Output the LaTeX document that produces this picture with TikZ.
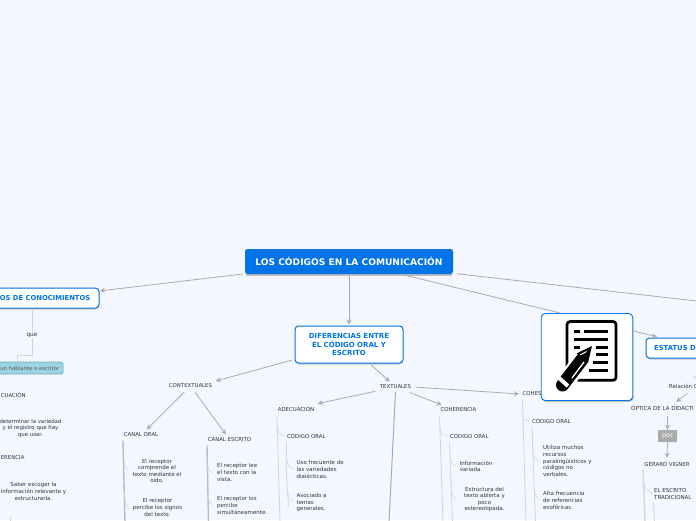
\documentclass[tikz,border=0pt]{standalone}
\usepackage{fontspec}
\setmainfont{DejaVu Sans}
\usetikzlibrary{arrows.meta,calc}
\definecolor{bgc}{HTML}{F4F7FF}
\definecolor{blu}{HTML}{0073E6}
\definecolor{lin}{HTML}{ABABAB}
\definecolor{lite}{HTML}{D6D6D6}
\definecolor{txt}{HTML}{333333}
\definecolor{tagf}{HTML}{9CD3E2}
\definecolor{tagd}{HTML}{6FAFC2}
\tikzset{
  x=1pt,y=-1pt,
  conn/.style={draw=lin,line width=.8pt,-{Stealth[length=5pt,width=5pt,fill=lin!70]},shorten <=2pt,shorten >=1pt},
  plain/.style={draw=lin,line width=.8pt},
  trunk/.style={draw=lite,line width=.9pt,line cap=round},
  bigtrunk/.style={draw=lin!80,line width=1.4pt,line cap=round},
  twig/.style={draw=lite,line width=.6pt},
  elbow/.style={draw=lite,line width=.9pt},
  tx/.style={text=txt,font=\fontsize{5.5}{6.6}\selectfont,align=center,inner sep=1pt},
  txl/.style={tx,align=left,anchor=west},
  hd/.style={tx,font=\fontsize{5.4}{6.6}\selectfont,inner sep=2.5pt},
  topbox/.style={fill=blu,rounded corners=2.5pt,text=white,font=\bfseries\fontsize{9.1}{10}\selectfont,minimum width=208pt,minimum height=25pt,inner sep=0pt},
  subbox/.style={draw=blu,line width=1pt,fill=white,rounded corners=3.5pt,text=blu,font=\bfseries\fontsize{7}{8.4}\selectfont,align=center,inner sep=0pt},
}
\begin{document}
\begin{tikzpicture}
\useasboundingbox (0,0) rectangle (696,520);
\clip (0,0) rectangle (696,520);
\fill[bgc] (0,0) rectangle (696,520);

% subtle shadows
\fill[black!25] (246,251) rectangle (452,276);

% nodes
\node[topbox] (main) at (349,261.5) {LOS CÓDIGOS EN LA COMUNICACIÓN};
\fill[black!22,rounded corners=3.5pt] (296,328) rectangle (403,364.5);
\node[subbox,minimum width=108pt,minimum height=37pt,text width=100pt] (dif) at (349,344.5) {DIFERENCIAS ENTRE\\EL CÓDIGO ORAL Y\\ESCRITO};
\fill[black!22,rounded corners=3.5pt] (-10,290) rectangle (99,309.5);
\draw[draw=blu,line width=1pt,fill=white,rounded corners=3.5pt] (-12,288) rectangle (99,308);
\node[text=blu,font=\bfseries\fontsize{6.8}{8.4}\selectfont,anchor=east,inner sep=0pt] (know) at (90.5,298) {OS DE CONOCIMIENTOS};
\node[tx,font=\fontsize{5.8}{7}\selectfont] (que) at (32,335) {que};
\draw[draw=tagd,line width=.7pt,fill=tagf,rounded corners=1.5pt] (-12,362) rectangle (63,374);
\node[text=black!65,font=\fontsize{5.35}{6.5}\selectfont,anchor=east,inner sep=0pt] (tag) at (59.5,368) {un hablante o escritor};
\node[hd,anchor=west,inner sep=0pt] (ade0) at (0.6,395) {CUACIÓN};
\node[tx,font=\fontsize{5.4}{6.6}\selectfont] (n1) at (30.5,428.5) {determinar la variedad\\y el registro que hay\\que usar.};
\node[hd,anchor=west,inner sep=0pt] (coh0) at (0.6,458) {ERENCIA};
\node[tx] (n2) at (33.5,491.5) {Saber escoger la\\información relevante y\\estructurarla.};
\coordinate (tick0) at (10.5,517.5);
\coordinate (tick1) at (10.5,521);

\node[hd] (ctx) at (190.5,386) {CONTEXTUALES};
\node[hd] (cor) at (141,435) {CANAL ORAL};
\node[hd] (ces) at (229.5,440) {CANAL ESCRITO};
\node[tx] (o1) at (157,471) {El receptor\\comprende el\\texto mediante el\\oído.};
\node[tx] (o2) at (157.5,507.5) {El receptor\\percibe los signos\\del texto.};
\node[txl] (e1) at (216,472.5) {El receptor lee\\el texto con la\\vista.};
\node[txl] (e2) at (216,505.5) {El receptor los\\percibe\\simultáneamente.};

\node[hd] (tex) at (395.5,387) {TEXTUALES};
\node[hd] (ade) at (296,409) {ADECUACIÓN};
\node[hd,anchor=west] (aco) at (284.5,436) {CÓDIGO ORAL};
\node[txl] (a1) at (295.5,469.5) {Uso frecuente de\\las variedades\\dialécticas.};
\node[txl] (a2) at (295.5,502.5) {Asociado a\\temas\\generales.};

\node[hd] (coh) at (458.5,410) {COHERENCIA};
\node[hd,anchor=west] (cco) at (447.5,436) {CÓDIGO ORAL};
\node[txl] (h1) at (458.6,466.5) {Información\\variada.};
\node[tx] (h2) at (484.5,499.5) {Estructura del\\texto abierta y\\poco\\estereotipada.};

\node[hd,anchor=west] (chs) at (520,394) {COHES};
\node[hd,anchor=west] (sco) at (529.5,421) {CÓDIGO ORAL};
\node[txl] (s1) at (542,461) {Utiliza muchos\\recursos\\paralingüísticos y\\códigos no\\verbales.};
\node[txl] (s2) at (542,500.5) {Alta frecuencia\\de referencias\\exofóricas.};

\fill[black!22,rounded corners=3.5pt] (647,340) rectangle (704,359.5);
\draw[draw=blu,line width=1pt,fill=white,rounded corners=3.5pt] (646,338) rectangle (706,358);
\coordinate (estn) at (658,337);
\node[text=blu,font=\bfseries\fontsize{6.8}{8.4}\selectfont,anchor=west,inner sep=0pt] (est) at (654,348) {ESTATUS D};
\node[hd,anchor=west] (rel) at (666.5,386) {Relación C};
\node[hd,anchor=west,font=\fontsize{5.5}{6.6}\selectfont] (opt) at (628.5,408) {ÓPTICA DE LA DIDÁCTI};
\node[fill=lin,rounded corners=1pt,text=white,font=\fontsize{6.6}{7}\selectfont,minimum width=19pt,minimum height=12pt,inner sep=0pt] (por) at (667.5,436) {por};
\node[hd] (gv) at (667,464) {GÉRARD VIGNER};
\node[txl] (tr) at (653,494) {EL ESCRITO\\TRADICIONAL};

\coordinate (optc) at (667.5,408);
\coordinate (offr) at (700,301.4);
\coordinate (relt) at (696,378.5);
\coordinate (relb) at (694,376.5);
\coordinate (relc) at (689,392);
\coordinate (optt) at (675.5,402.5);
\coordinate (knowe) at (99,291);

% main connectors
\draw[conn] (main) -- (knowe);
\draw[conn] (main) -- (dif.north);
\draw[plain,shorten <=4pt] (main) -- (offr);
\draw[conn] (main) -- (estn);
\draw[conn] (dif) -- (ctx.north east);
\draw[conn] (dif) -- (tex);
\draw[conn] (ctx) -- ($(cor.north)+(5,0)$);
\draw[conn] (ctx) -- ($(ces.north)+(-3,0)$);
\draw[conn] (tex) -- (ade.north east);
\draw[conn] (tex) -- ($(coh.north)+(-16,0)$);
\draw[conn] (tex.east) -- (chs.west);
\coordinate (texd) at (389,522);
\draw[plain,line width=1pt] (tex.south) -- (texd);

% "que" elbow
\coordinate (knowb) at (32,308.5);
\draw[elbow] (knowb) -- (que);
\coordinate (tagtop) at (17.5,362);
\draw[elbow] (que.south) -- (32,355) -- (17.5,355) -- (tagtop);
\draw[trunk] (tick0) -- (tick1);

% Canal oral tree
\coordinate (cort) at (123,441);  \coordinate (corb) at (125,522);
\draw[bigtrunk] (cort) -- (corb);
\coordinate (corA) at (124,460); \coordinate (corB) at (124.5,493);
\draw[twig] (corA) .. controls (125,466) .. (128.5,471);
\draw[twig] (corB) .. controls (125,502) .. (128.5,509);
% Canal escrito tree
\coordinate (cest) at (207,446); \coordinate (cesb) at (208.5,522);
\draw[bigtrunk] (cest) -- (cesb);
\coordinate (cesA) at (207.5,463); \coordinate (cesB) at (208,495);
\draw[twig] (cesA) .. controls (208,469) .. (212,473);
\draw[twig] (cesB) .. controls (208.5,501) .. (213,505);

% Adecuacion tree
\coordinate (adet) at (277,416); \coordinate (adeb) at (280,522);
\draw[trunk] (adet) -- (adeb);
\coordinate (adeA) at (277.5,425);
\draw[twig] (adeA) .. controls (278,433) .. (aco.west);
\coordinate (acot) at (286.5,442); \coordinate (acob) at (288.5,506);
\draw[trunk] (acot) .. controls (286,470) .. (acob);
\coordinate (acoA) at (287,459); \coordinate (acoB) at (287.5,490);
\draw[twig] (acoA) .. controls (288,466) .. (293.5,469.5);
\draw[twig] (acoB) .. controls (288.5,498) .. (293.5,502);

% Coherencia tree
\coordinate (coht) at (439.5,416); \coordinate (cohb) at (443,522);
\draw[trunk] (coht) -- (cohb);
\coordinate (cohA) at (440,428);
\draw[twig] (cohA) .. controls (441,434) .. (cco.west);
\coordinate (ccot) at (449.5,443); \coordinate (ccob) at (452.5,522);
\draw[trunk] (ccot) -- (ccob);
\coordinate (ccoA) at (450,455); \coordinate (ccoB) at (451,480);
\draw[twig] (ccoA) .. controls (451,463) .. (456,466);
\draw[twig] (ccoB) .. controls (452,495) .. (456,499.5);

% Cohesion tree
\coordinate (chst) at (522.5,400); \coordinate (chsb) at (526,522);
\draw[trunk] (chst) -- (chsb);
\coordinate (chsA) at (523,415);
\draw[twig] (chsA) .. controls (524,420) .. (sco.west);
\coordinate (scot) at (532,427); \coordinate (scob) at (535.5,522);
\draw[trunk] (scot) -- (scob);
\coordinate (scoA) at (533,450); \coordinate (scoB) at (534,488);
\draw[twig] (scoA) .. controls (534,458) .. (539,461);
\draw[twig] (scoB) .. controls (535,496) .. (539.5,500.5);

% Estatus side
\draw[lin,line width=.6pt] (relb) -- (relt);
\draw[conn] (relc) -- (optt);
\draw[conn,shorten <=0pt,shorten >=0pt] ($(optc)+(0,8)$) -- (por.north);
\draw[conn,shorten <=0pt] (por.south) -- (gv.north);
\coordinate (gvt) at (643,470); \coordinate (gvb) at (645,522);
\draw[bigtrunk,draw=lite] (gvt) -- (gvb);
\coordinate (gvA) at (644,484);
\draw[twig] (gvA) .. controls (645,489) .. (tr.west);
\coordinate (trt) at (653.5,503); \coordinate (trb) at (654.5,522);
\draw[trunk] (trt) -- (trb);

% image tile
\fill[black!25,rounded corners=4pt] (542,315) rectangle (633.5,402);
\node[draw=blu,line width=.9pt,fill=white,rounded corners=4pt,minimum width=91.5pt,minimum height=87pt,inner sep=0pt] (tile) at (587,357) {};
\draw[black,line width=2.7pt,rounded corners=3pt,fill=white] (567,321.5) rectangle (616,380.3);
\foreach \ya/\xa/\xb in {331/574/580,331/584/608,339/574/608,347/574/580,347/596/608,354/596/608,362/593/608,370/589/608}
  \fill[black] (\xa,\ya-1.5) rectangle (\xb,\ya+1.5);
\draw[white,line width=18pt,line cap=round] (582,360) -- (563,385);
\fill[white] (593,343) -- (574,352) -- (592,366) -- cycle;
\draw[black,line width=13pt,line cap=round] (582,359.5) -- (562.5,385);
\fill[black] (592,346) -- (576.5,353.5) -- (588,362.5) -- cycle;
\draw[white,line width=1.3pt] (584,362) -- (572,378);
\draw[white,line width=1pt] (586.5,351.5) -- (580,355);
\draw[white,line width=4pt] (559,378) -- (568,386);
\end{tikzpicture}
\end{document}
